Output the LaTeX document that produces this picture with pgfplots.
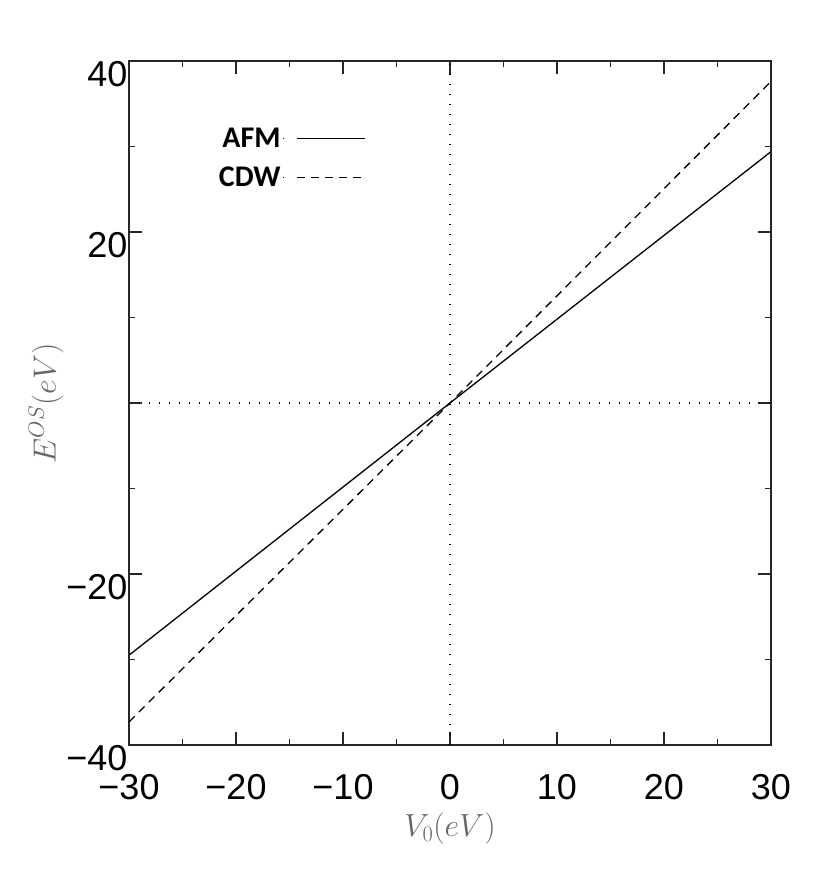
\RequirePackage{fix-cm}
\documentclass[border=0pt]{standalone}
\usepackage{fontspec}
\setmainfont{Liberation Sans}
\newfontfamily\carlito{Carlito}
\usepackage{pgfplots}
\pgfplotsset{compat=1.18}
\begin{document}
\begin{tikzpicture}
\begin{axis}[
  at={(0pt,0pt)}, anchor=south west,
  scale only axis, width=642pt, height=684pt,
  xmin=-30, xmax=30, ymin=-40, ymax=40,
  axis line style={line width=1.2pt, black!85},
  xtick={-30,-20,...,30},
  xticklabels={−30,−20,−10,0,10,20,30},
  minor xtick={-25,-15,...,25},
  ytick={-40,-20,0,20,40},
  yticklabels={−40,−20,{},20,40},
  minor ytick={-30,-10,10,30},
  tick align=inside,
  major tick length=13pt, minor tick length=6pt,
  tick style={line width=1.2pt, black!85},
  ticklabel style={font=\fontsize{36}{36}\selectfont},
  xticklabel style={yshift=-26pt},
  yticklabel style={xshift=2pt, yshift=-13pt},
  xlabel={$V_0(eV)$},
  ylabel={$E^{OS}(eV)$},
  label style={text=black!60, font=\fontsize{32}{32}\selectfont},
  xlabel style={yshift=-6pt},
  ylabel style={yshift=-4pt},
  legend style={draw=none, fill=none, at={(0.132,0.908)}, anchor=north west,
    legend plot pos=right, legend cell align=right,
    font=\carlito\bfseries\fontsize{30}{30}\selectfont,
    row sep=14pt},
  legend image code/.code={\path (0pt,0pt) -- (1pt,0pt); \draw[#1] (14pt,0pt) -- (82pt,0pt);},
]
\addplot[black, line width=1.3pt] coordinates {(-30,-29.5) (0,0) (30,29.4)};
\addlegendentry{AFM}
\addplot[black, line width=1.3pt, dash pattern=on 8pt off 6pt] coordinates {(-30,-37.3) (0,0) (30,37.6)};
\addlegendentry{CDW}
\addplot[black, line width=1.3pt, dash pattern=on 1.3pt off 8.7pt, forget plot] coordinates {(0,-40) (0,40)};
\addplot[black, line width=1.3pt, dash pattern=on 1.3pt off 8.7pt, forget plot] coordinates {(-30,0) (30,0)};
\end{axis}
\path (-129pt,-148pt) rectangle (700pt,745pt);
\end{tikzpicture}
\end{document}
